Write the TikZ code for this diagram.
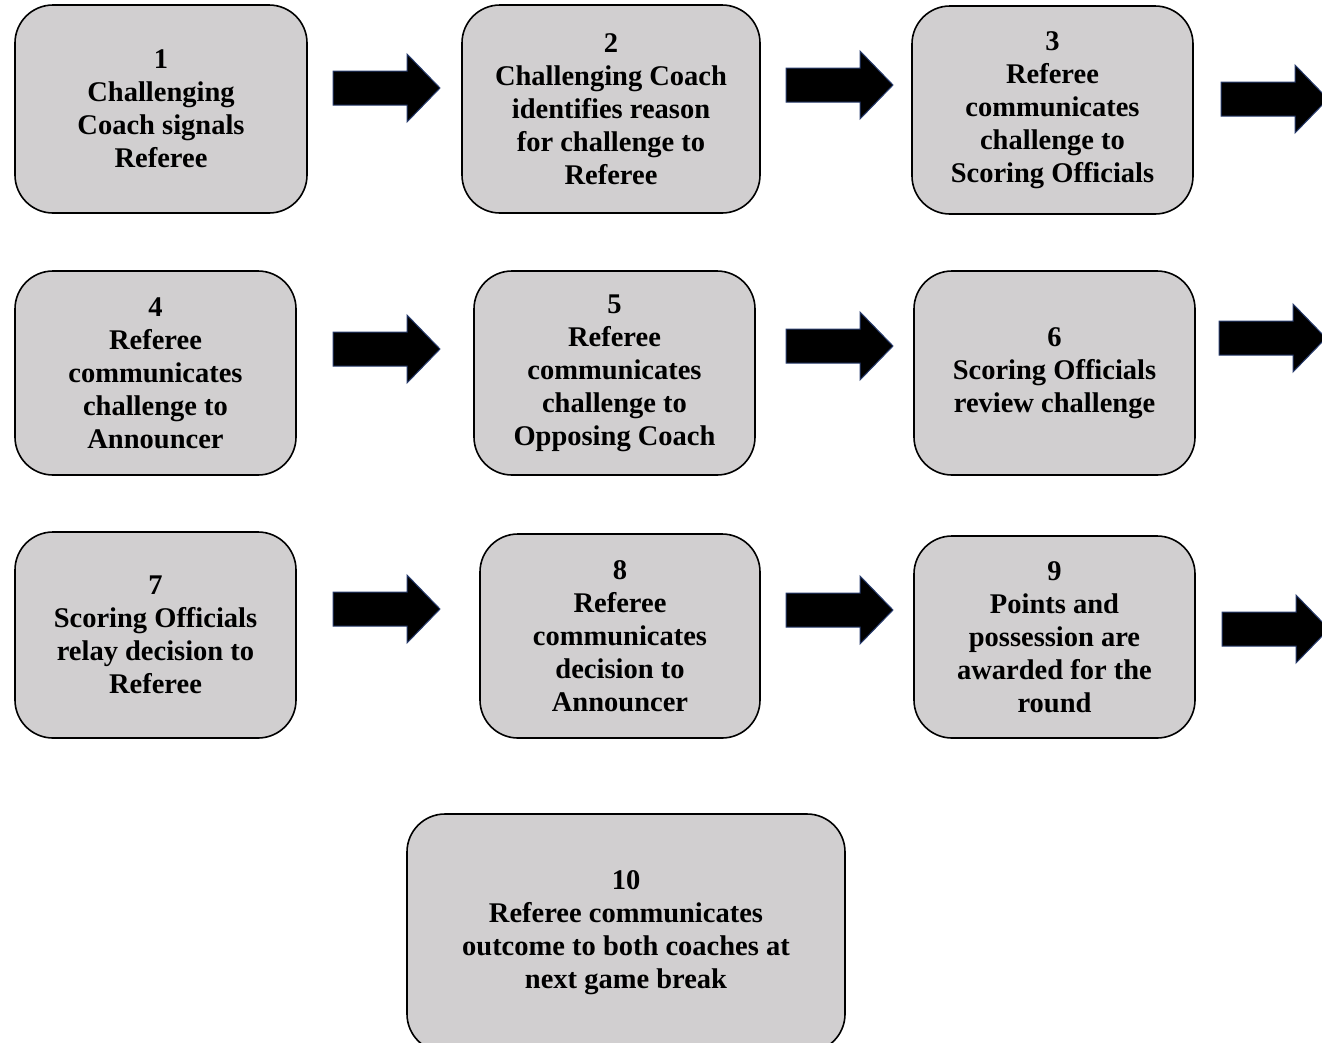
\documentclass[tikz,border=0pt]{standalone}
\usepackage{fontspec}
\setmainfont{Liberation Serif}
\usetikzlibrary{calc}

\definecolor{boxgray}{RGB}{209,207,208}
\definecolor{arrowedge}{RGB}{40,60,110}

\tikzset{
  stepbox/.style={draw=black, line width=1.6pt, fill=boxgray, rounded corners=38pt,
    align=center, inner sep=0pt, font=\bfseries\fontsize{28.5}{33}\selectfont},
  blockarrow/.pic={
    \filldraw[fill=black, draw=arrowedge, line width=1pt]
      (0,-17) -- (74,-17) -- (74,-34) -- (107,0) -- (74,34) -- (74,17) -- (0,17) -- cycle;
  }
}

\begin{document}
\begin{tikzpicture}[x=1pt, y=-1pt]
        \useasboundingbox (0,0) rectangle (1322,1042);

        % first row
        \node[stepbox, minimum width=292pt, minimum height=208pt] (s1) at (161,109)
            {1\\Challenging\\Coach signals\\Referee};
        \node[stepbox, minimum width=298pt, minimum height=208pt] (s2) at (611,109)
            {2\\Challenging Coach\\identifies reason\\for challenge to\\Referee};
        \node[stepbox, minimum width=281pt, minimum height=208pt] (s3) at (1052.5,110)
            {3\\Referee\\communicates\\challenge to\\Scoring Officials};

        % second row
        \node[stepbox, minimum width=281pt, minimum height=204pt] (s4) at (155.5,373)
            {4\\Referee\\communicates\\challenge to\\Announcer};
        \node[stepbox, minimum width=281pt, minimum height=204pt] (s5) at (614.5,373)
            {5\\Referee\\communicates\\challenge to\\Opposing Coach};
        \node[stepbox, minimum width=281pt, minimum height=204pt] (s6) at (1054.5,373)
            {6\\Scoring Officials\\review challenge};

        % third row
        \node[stepbox, minimum width=281pt, minimum height=206pt] (s7) at (155.5,635)
            {7\\Scoring Officials\\relay decision to\\Referee};
        \node[stepbox, minimum width=280pt, minimum height=204pt] (s8) at (620,636)
            {8\\Referee\\communicates\\decision to\\Announcer};
        \node[stepbox, minimum width=281pt, minimum height=202pt] (s9) at (1054.5,637)
            {9\\Points and\\possession are\\awarded for the\\round};

        % last step
        \node[stepbox, minimum width=438pt, minimum height=238pt] (s10) at (626,933)
            {10\\Referee communicates\\outcome to both coaches at\\next game break};

        % arrows
        \pic at (333,88) {blockarrow};
        \pic at (786,85) {blockarrow};
        \pic at (1221,99) {blockarrow};
        \pic at (333,349) {blockarrow};
        \pic at (786,346) {blockarrow};
        \pic at (1219,338) {blockarrow};
        \pic at (333,609) {blockarrow};
        \pic at (786,610) {blockarrow};
        \pic at (1222,629) {blockarrow};
    \end{tikzpicture}
\end{document}
